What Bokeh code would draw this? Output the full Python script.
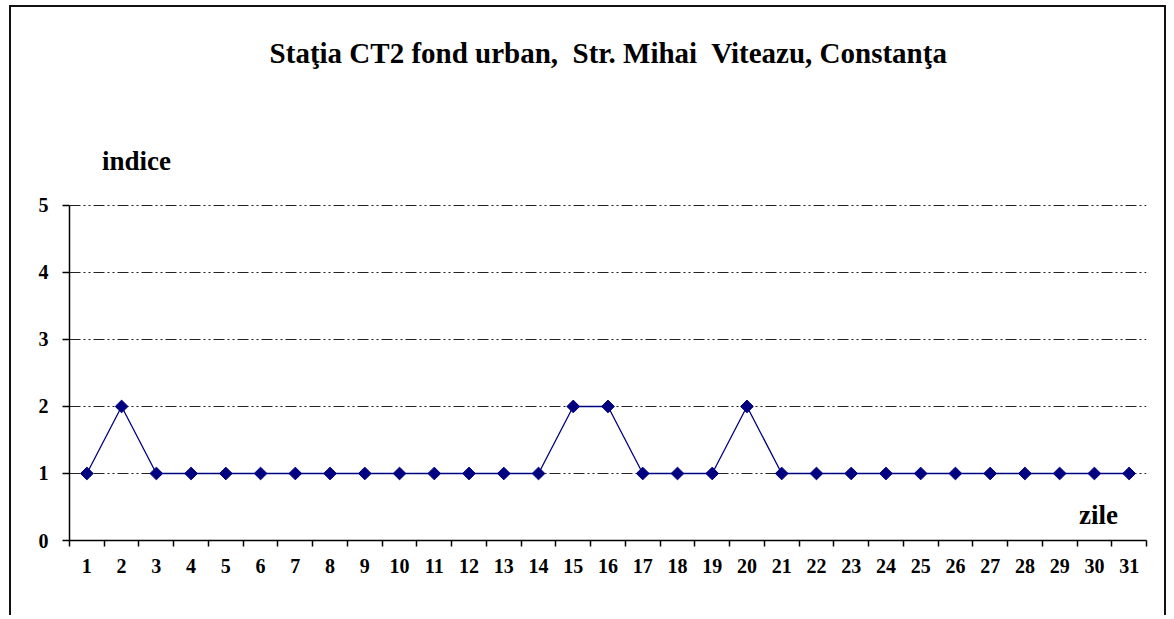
import math
from bokeh.plotting import figure
from bokeh.models import FixedTicker, Label, Range1d
from bokeh.embed import file_html
from bokeh.resources import INLINE

# ---- data ----
days = list(range(1, 32))
indice = [1, 2, 1, 1, 1, 1, 1, 1, 1, 1, 1, 1, 1, 1, 2, 2, 1, 1, 1, 2,
          1, 1, 1, 1, 1, 1, 1, 1, 1, 1, 1]
y_ticks = [0, 1, 2, 3, 4, 5]
title_text = "Staţia CT2 fond urban,\u00a0 Str. Mihai\u00a0 Viteazu, Constanţa"
y_label = "indice"
x_label = "zile"

FONT = "'Liberation Serif', 'Times New Roman', Times, serif"
W, H = 1157, 610

p = figure(width=W, height=H, output_backend="svg", toolbar_location=None,
           x_range=Range1d(0.5, 31.5), y_range=Range1d(0, 7.76),
           min_border_left=58, min_border_right=22,
           min_border_top=13, min_border_bottom=77)
p.styles = {"border-left": "2px solid #111", "border-top": "2px solid #111",
            "border-right": "2px solid #111", "margin-left": "9px",
            "margin-top": "5px"}
p.outline_line_color = None
p.background_fill_color = "white"
p.border_fill_color = "white"

# x axis: labels at day centres, ticks at day boundaries
p.xaxis.ticker = FixedTicker(ticks=days, minor_ticks=[d - 0.5 for d in days] + [days[-1] + 0.5])
p.xaxis.major_tick_line_color = None
p.xaxis.minor_tick_out = 6
p.xaxis.minor_tick_in = 0
p.xaxis.minor_tick_line_color = "black"
p.xaxis.minor_tick_line_width = 1.5
p.xaxis.axis_line_color = "black"
p.xaxis.axis_line_width = 1.5
p.xaxis.major_label_text_font = FONT
p.xaxis.major_label_text_font_style = "bold"
p.xaxis.major_label_text_font_size = "20px"
p.xaxis.major_label_text_color = "black"
p.xaxis.major_label_standoff = 12

# y axis
p.yaxis.ticker = FixedTicker(ticks=y_ticks)
p.yaxis.bounds = (0, 5)
p.yaxis.major_tick_out = 7
p.yaxis.major_tick_in = 0
p.yaxis.major_tick_line_color = "black"
p.yaxis.major_tick_line_width = 1.5
p.yaxis.minor_tick_line_color = None
p.yaxis.axis_line_color = "black"
p.yaxis.axis_line_width = 1.5
p.yaxis.major_label_text_font = FONT
p.yaxis.major_label_text_font_style = "bold"
p.yaxis.major_label_text_font_size = "20px"
p.yaxis.major_label_text_color = "black"
p.yaxis.major_label_standoff = 14

# grid
p.xgrid.grid_line_color = None
p.ygrid.ticker = FixedTicker(ticks=y_ticks[1:])
p.ygrid.grid_line_color = "#222222"
p.ygrid.grid_line_width = 1
p.ygrid.grid_line_dash = "11 3 2 3 2 3"

# series
p.line(days, indice, line_color="#000080", line_width=1.3)
p.scatter(days, indice, marker="square", size=9, angle=math.pi / 4,
          fill_color="#000080", line_color="#000080")

# texts (screen units are relative to the frame's bottom-left corner)
p.add_layout(Label(x=539, y=488, x_units="screen", y_units="screen",
                   text=title_text, text_font=FONT, text_font_style="bold",
                   text_font_size="29px", text_align="center",
                   text_baseline="middle", text_color="black"))
p.add_layout(Label(x=67, y=380, x_units="screen", y_units="screen",
                   text=y_label, text_font=FONT, text_font_style="bold",
                   text_font_size="27px", text_align="center",
                   text_baseline="middle", text_color="black"))
p.add_layout(Label(x=1029, y=26, x_units="screen", y_units="screen",
                   text=x_label, text_font=FONT, text_font_style="bold",
                   text_font_size="27px", text_align="center",
                   text_baseline="middle", text_color="black"))

open("out.html", "w").write(file_html(p, INLINE))
